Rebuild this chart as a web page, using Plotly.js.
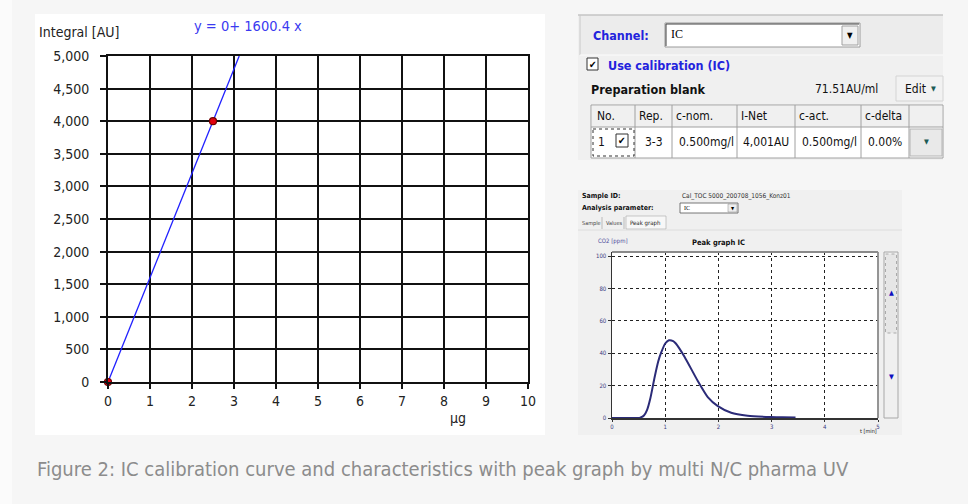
<!DOCTYPE html>
<html><head><meta charset="utf-8">
<script src="https://cdn.plot.ly/plotly-3.0.1.min.js"></script>
<style>html,body{margin:0;padding:0;background:#f6f6f6;}#chart{width:968px;height:504px;}</style>
</head><body><div id="chart"></div>
<script>
// ---- calibration chart data ----
const calX = [0, 2.5];
const calY = [0, 4001];
const fitX = [0, 3.124];
const fitY = [0, 5000];
const equationText = 'y = 0+ 1600.4 x';
const yAxisLabel = 'Integral [AU]';
const xAxisLabel = 'µg';

// ---- peak graph data (CO2 ppm vs t min) ----
const peakT   = [0, 0.5, 0.53, 0.6, 0.66, 0.72, 0.8, 0.87, 0.92, 1.0, 1.07, 1.15, 1.2, 1.36, 1.61, 1.8, 1.99, 2.24, 2.55, 2.98, 3.2, 3.45];
const peakCO2 = [0, 0, 0.2, 1.5, 5, 12, 25, 35, 40, 46, 48, 47.5, 46, 38, 23, 12.9, 7.3, 3.2, 1.4, 0.6, 0.4, 0.3];

// ---- calibration table ----
const tableHeader = ['No.', 'Rep.', 'c-nom.', 'I-Net', 'c-act.', 'c-delta'];
const tableRow    = ['1', '3-3', '0.500mg/l', '4,001AU', '0.500mg/l', '0.00%'];
const channelName = 'IC';
const blankValue  = '71.51AU/ml';
const sampleId    = 'Cal_TOC 5000_200708_1056_Konz01';
const captionText = 'Figure 2: IC calibration curve and characteristics with peak graph by multi N/C pharma UV';

const W = 968, H = 504;
const FONT = 'DejaVu Sans Condensed, DejaVu Sans, sans-serif';
const shapes = [], ann = [];
function R(x0, y0, x1, y1, fill, lc, lw, layer, dash) {
  shapes.push({type:'rect', xref:'paper', yref:'paper', x0:x0/W, x1:x1/W, y0:1-y0/H, y1:1-y1/H,
    fillcolor: fill || 'rgba(0,0,0,0)', line:{color: lc || 'rgba(0,0,0,0)', width: lw || 0, dash: dash || 'solid'}, layer: layer || 'below'});
}
function L(x0, y0, x1, y1, c, w, layer, dash) {
  shapes.push({type:'line', xref:'paper', yref:'paper', x0:x0/W, x1:x1/W, y0:1-y0/H, y1:1-y1/H,
    line:{color:c, width:w, dash: dash || 'solid'}, layer: layer || 'below'});
}
function T(x, y, text, size, color, anchor, family) {
  ann.push({xref:'paper', yref:'paper', x:x/W, y:1-y/H, text:text, showarrow:false,
    xanchor: anchor || 'left', yanchor:'middle', font:{size:size, color:color, family: family || FONT}});
}

// background pieces
R(0, 0, 12, 504, '#fbfbfb');
R(35, 14, 545, 435, '#ffffff');

// labels of main chart
T(37, 32, yAxisLabel, 14, '#222');
T(192, 26, equationText, 14.5, '#3a3af0');
T(458, 418, xAxisLabel, 14, '#222', 'center');

// ---- top right UI panel ----
R(578, 15, 943, 160, '#f0f0f0');
R(580, 15, 943, 55, '#ececec');
L(578, 15, 943, 15, '#c4c4c4', 1.5);
L(580, 15, 580, 55, '#c8c8c8', 1);
L(580, 55, 943, 55, '#fcfcfc', 1);
T(591, 36, '<b>Channel:</b>', 12.5, '#2323dd');
R(665, 23, 860, 47, '#ffffff', '#9a9a9a', 1);
L(666, 24, 859, 24, '#404040', 1);
L(666, 24, 666, 46, '#404040', 1);
T(669, 34, channelName, 12, '#000', 'left', 'Liberation Serif, serif');
R(842, 26, 858, 45, '#f0f0f0', '#a0a0a0', 1);
T(850, 36, '▼', 8, '#000', 'center');
R(587, 58, 598, 70, '#ffffff', '#333', 1);
T(592.5, 64, '✔', 10, '#000', 'center');
T(606, 65, '<b>Use calibration (IC)</b>', 12.5, '#2323dd');
T(589, 89, '<b>Preparation blank</b>', 12.5, '#111');
T(813, 89, blankValue, 12, '#111');
R(896, 76, 943, 101, '#f2f2f2', '#d4d4d4', 1);
T(903, 89, 'Edit', 12, '#111');
T(933, 89, '▼', 7, '#1d5a55', 'center');
// table
const colEdges = [591, 635, 672, 737, 795, 861, 909, 943];
R(591, 105, 943, 158, '#ffffff', '#a0a0a0', 1);
R(592, 106, 942, 127, '#f0f0f0');
L(591, 127, 943, 127, '#a0a0a0', 1);
colEdges.slice(1, -1).forEach(x => L(x, 105, x, 158, '#a0a0a0', 1));
const hdrX = [595, 637, 674, 739, 797, 863];
tableHeader.forEach((h, i) => T(hdrX[i], 116, h, 12, '#111'));
R(593, 129, 634, 156, null, '#333', 1, 'below', 'dot');
R(616, 134, 628, 147, '#ffffff', '#333', 1);
T(622, 140.5, '✔', 10, '#000', 'center');
T(596, 142, tableRow[0], 12, '#111');
T(653.5, 142, tableRow[1], 12, '#111', 'center');
const rowX = [0, 0, 677, 741, 800, 866];
for (let i = 2; i < tableRow.length; i++) T(rowX[i], 142, tableRow[i], 12, '#111');
R(910, 129, 942, 156, '#e9e9e9', '#b4b4b4', 1);
T(926, 142, '▼', 7, '#1d5a55', 'center');

// ---- bottom right peak graph panel ----
R(578, 190, 902, 435, '#f0f0f0');
T(580, 196, '<b>Sample ID:</b>', 7, '#111');
T(680, 196, sampleId, 6.5, '#333');
T(580, 208, '<b>Analysis parameter:</b>', 7, '#111');
R(680, 203, 738, 213, '#ffffff', '#555', 0.8);
T(682, 208, channelName, 6, '#000', 'left', 'Liberation Serif, serif');
R(728, 204, 737, 212, '#eeeeee', '#888', 0.5);
T(732.5, 208, '▼', 4.5, '#000', 'center');
T(580, 223, 'Sample', 5.5, '#444');
L(602, 217, 602, 229, '#999', 0.6);
T(604, 223, 'Values', 5.5, '#444');
L(624, 217, 624, 229, '#999', 0.6);
R(626, 216, 666, 229, '#f7f7f7', '#a8a8a8', 0.6);
T(628, 222.5, 'Peak graph', 6, '#222');
L(578, 230, 902, 230, '#d8d8d8', 0.8);
T(596, 241, 'CO2 [ppm]', 6, '#4a4a9a');
T(718, 242, '<b>Peak graph IC</b>', 7.5, '#111', 'center');
R(612, 252, 878, 418, '#ffffff');
L(612, 252, 878, 252, '#8a8a8a', 1.8, 'above');
L(878, 252, 878, 418, '#8a8a8a', 1.8, 'above');
T(868, 431, 't [min]', 5.5, '#222', 'center');
// scroll bar
R(884, 252, 898, 418, '#f0f0f0', '#a8a8a8', 1);
R(885.5, 254, 896.5, 333, '#e6e6e6', '#999', 0.8, 'below', 'dot');
T(891, 293, '▲', 7, '#1010c0', 'center');
T(891, 377, '▼', 7, '#1010c0', 'center');

// caption
T(35, 469, captionText, 20, '#8c8c8c', 'left', 'DejaVu Sans Condensed, sans-serif');

const traces = [
  {x: fitX, y: fitY, type:'scatter', mode:'lines', line:{color:'#2020ff', width:1.3}, xaxis:'x', yaxis:'y', hoverinfo:'skip'},
  {x: calX, y: calY, type:'scatter', mode:'markers', cliponaxis:false, marker:{color:'#e00010', size:7, symbol:'circle', line:{color:'#700000', width:1.2}}, xaxis:'x', yaxis:'y'},
  {x: peakT, y: peakCO2, type:'scatter', mode:'lines', line:{color:'#2b2b78', width:2, shape:'spline', smoothing:0.6}, xaxis:'x2', yaxis:'y2'}
];

const layout = {
  width: W, height: H, margin:{l:0, r:0, t:0, b:0},
  paper_bgcolor:'#f6f6f6', plot_bgcolor:'#ffffff', showlegend:false,
  font:{family: FONT},
  xaxis:{domain:[108/W, 528/W], range:[0, 10], dtick:1, tick0:0, showgrid:true, gridcolor:'#111', gridwidth:2,
    showline:true, linecolor:'#111', linewidth:2, mirror:true, zeroline:false, ticks:'outside', ticklen:5, tickwidth:2, tickcolor:'#111',
    tickfont:{size:14, color:'#222', family:FONT}, fixedrange:true},
  yaxis:{domain:[(H-382)/H, (H-56)/H], range:[0, 5000], dtick:500, tick0:0, tickformat:',', showgrid:true, gridcolor:'#111', gridwidth:2,
    showline:true, linecolor:'#111', linewidth:2, mirror:true, zeroline:false, ticks:'outside', ticklen:6, tickwidth:2, tickcolor:'#111',
    ticklabelstandoff:8, tickfont:{size:14, color:'#222', family:FONT}, fixedrange:true},
  xaxis2:{domain:[612/W, 878/W], range:[0, 5], dtick:1, tick0:0, anchor:'y2', showgrid:true, gridcolor:'#222', gridwidth:1, griddash:'dot',
    showline:true, linecolor:'#333', linewidth:1.5, zeroline:false, ticks:'outside', ticklen:2, tickcolor:'#333',
    tickfont:{size:6, color:'#3a3a80', family:FONT}, fixedrange:true},
  yaxis2:{domain:[(H-418)/H, (H-252)/H], range:[0, 102.5], dtick:20, tick0:0, anchor:'x2', showgrid:true, gridcolor:'#222', gridwidth:1, griddash:'dot',
    showline:true, linecolor:'#333', linewidth:1.5, zeroline:false, ticks:'outside', ticklen:3, tickcolor:'#333',
    tickfont:{size:6, color:'#3a3a80', family:FONT}, fixedrange:true},
  shapes: shapes, annotations: ann
};
Plotly.newPlot('chart', traces, layout, {displayModeBar:false, staticPlot:true});
</script></body></html>
